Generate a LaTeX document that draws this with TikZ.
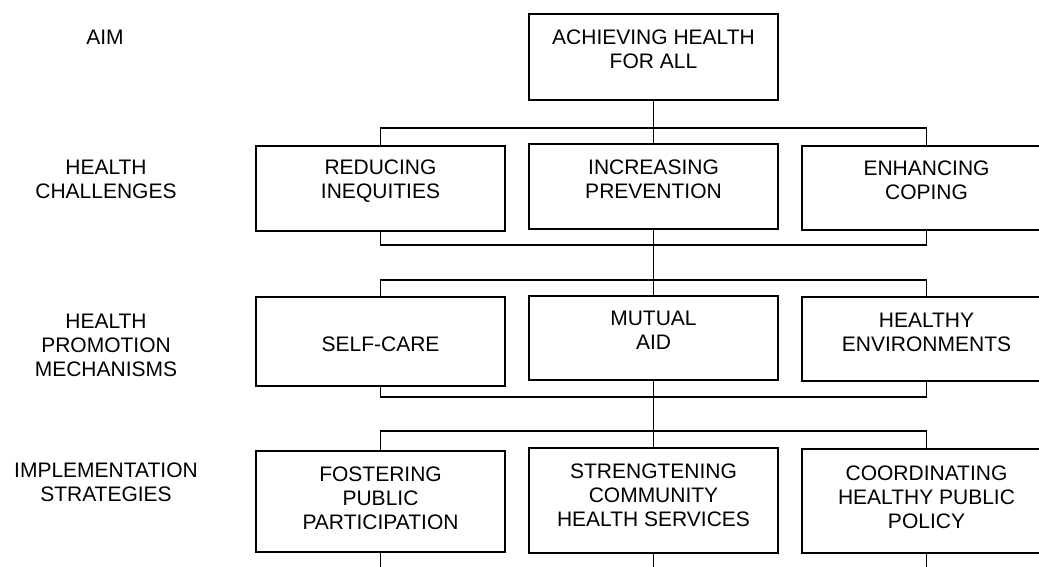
\documentclass[tikz,border=0pt]{standalone}
\usepackage{fontspec}
\setmainfont{Liberation Sans}
\begin{document}
\begin{tikzpicture}[x=1pt,y=-1pt,
  box/.style={draw=black,line width=1.8pt,minimum width=249pt,inner sep=0pt,outer sep=0pt},
  conn/.style={draw=black,line width=1.3pt},
  txt/.style={align=center,inner sep=0pt,font=\fontsize{21}{24}\selectfont},
  lbl/.style={txt}]
\useasboundingbox (0,0) rectangle (1039,566);

% level labels
\node[lbl] (laim) at (105,37) {AIM};
\node[lbl] (lchal) at (106,179) {HEALTH\\CHALLENGES};
\node[lbl] (lmech) at (106,345.5) {HEALTH\\PROMOTION\\MECHANISMS};
\node[lbl] (lstrat) at (106,482) {IMPLEMENTATION\\STRATEGIES};

% boxes
\node[box,minimum height=86pt] (top) at (653.5,57) {};
\node[box,minimum height=85pt] (l2) at (380.5,188.5) {};
\node[box,minimum height=85pt] (m2) at (653.5,186.5) {};
\node[box,minimum height=84pt] (r2) at (926.5,188) {};
\node[box,minimum height=89pt] (l3) at (380.5,341.5) {};
\node[box,minimum height=84pt] (m3) at (653.5,338) {};
\node[box,minimum height=84pt] (r3) at (926.5,339) {};
\node[box,minimum height=101pt] (l4) at (380.5,501.5) {};
\node[box,minimum height=105pt] (m4) at (653.5,500.5) {};
\node[box,minimum height=104pt] (r4) at (926.5,501) {};

% box texts
\node[txt] (ttop) at (653.5,49.5) {ACHIEVING HEALTH\\FOR ALL};
\node[txt] (tl2) at (380.5,181) {REDUCING\\INEQUITIES};
\node[txt] (tm2) at (653.5,179) {INCREASING\\PREVENTION};
\node[txt] (tr2) at (926.5,180) {ENHANCING\\COPING};
\node[txt] (tl3) at (380.5,344.5) {SELF-CARE};
\node[txt] (tm3) at (653.5,330.5) {MUTUAL\\AID};
\node[txt] (tr3) at (926.5,332) {HEALTHY\\ENVIRONMENTS};
\node[txt] (tl4) at (380.5,498) {FOSTERING\\PUBLIC\\PARTICIPATION};
\node[txt] (tm4) at (653.5,495.5) {STRENGTENING\\COMMUNITY\\HEALTH SERVICES};
\node[txt] (tr4) at (926.5,497) {COORDINATING\\HEALTHY PUBLIC\\POLICY};

% bus lines
\coordinate (b2top) at (653.5,128);
\coordinate (b2bot) at (653.5,245);
\coordinate (b3top) at (653.5,280);
\coordinate (b3bot) at (653.5,397);
\coordinate (b4top) at (653.5,431);
\coordinate (tail) at (653.5,570);

\draw[conn] (top.south) -- (m2.north);
\draw[conn] (l2.north) -- (l2.north |- b2top) -- (r2.north |- b2top) -- (r2.north);
\draw[conn] (l2.south) -- (l2.south |- b2bot) -- (r2.south |- b2bot) -- (r2.south);

\draw[conn] (m2.south) -- (m3.north);
\draw[conn] (l3.north) -- (l3.north |- b3top) -- (r3.north |- b3top) -- (r3.north);
\draw[conn] (l3.south) -- (l3.south |- b3bot) -- (r3.south |- b3bot) -- (r3.south);

\draw[conn] (m3.south) -- (m4.north);
\draw[conn] (l4.north) -- (l4.north |- b4top) -- (r4.north |- b4top) -- (r4.north);

\draw[conn] (l4.south) -- (l4.south |- tail);
\draw[conn] (m4.south) -- (m4.south |- tail);
\draw[conn] (r4.south) -- (r4.south |- tail);
\end{tikzpicture}
\end{document}
